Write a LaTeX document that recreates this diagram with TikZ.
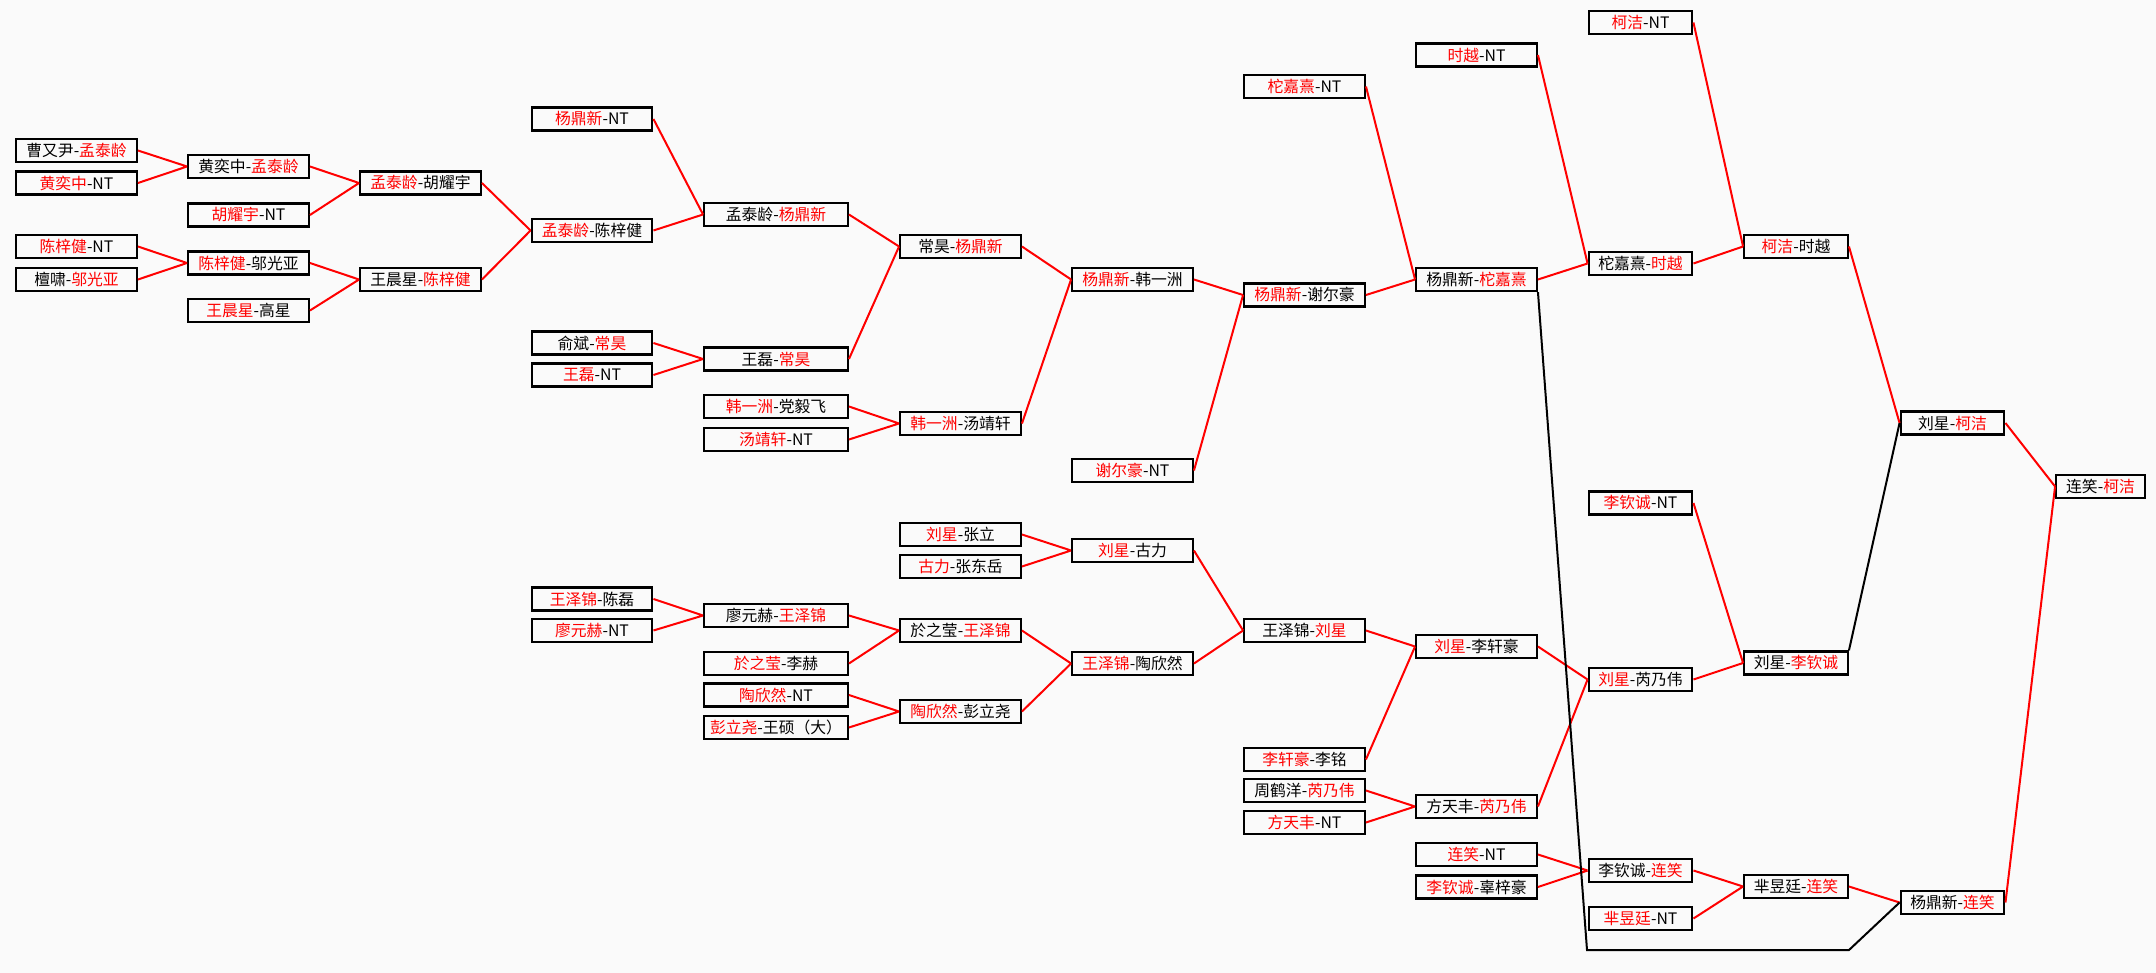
\documentclass[tikz,border=0pt]{standalone}
\usepackage{fontspec}
\setmainfont{Noto Sans CJK SC}
\definecolor{sfondo}{RGB}{250,250,250}
\newcommand{\vin}[1]{\textcolor{red}{#1}}

\begin{document}
\begin{tikzpicture}[x=0.5pt, y=-0.5pt,
        box/.style={draw, line width=1.15pt, inner sep=0pt, minimum height=11.5pt,
            minimum width=60.3pt, font=\fontsize{7.9}{9}\selectfont},
        largo/.style={box, minimum width=71.8pt},
        corto/.style={box, minimum width=51.8pt},
        finale/.style={box, minimum width=44.3pt},
        vinto/.style={red, line width=1pt},
        perso/.style={black, line width=1pt}]
    % Sfondo
    \fill[sfondo] (0,0) rectangle (2156,973);
    % Turno 1
    \node[box] (a1) at (76.5,150.5) {曹又尹-\vin{孟泰龄}};
    \node[box] (a2) at (76.5,183) {\vin{黄奕中}-NT};
    \node[box] (a3) at (76.5,246.5) {\vin{陈梓健}-NT};
    \node[box] (a4) at (76.5,279.5) {檀啸-\vin{邬光亚}};
    % Turno 2
    \node[box] (b1) at (248.5,166.5) {黄奕中-\vin{孟泰龄}};
    \node[box] (b2) at (248.5,215) {\vin{胡耀宇}-NT};
    \node[box] (b3) at (248.5,263) {\vin{陈梓健}-邬光亚};
    \node[box] (b4) at (248.5,310.5) {\vin{王晨星}-高星};
    % Turno 3
    \node[box] (c1) at (420.5,183) {\vin{孟泰龄}-胡耀宇};
    \node[box] (c2) at (420.5,279.5) {王晨星-\vin{陈梓健}};
    % Turno 4
    \node[box] (d1) at (592,119) {\vin{杨鼎新}-NT};
    \node[box] (d2) at (592,230.5) {\vin{孟泰龄}-陈梓健};
    \node[box] (d3) at (592,343) {俞斌-\vin{常昊}};
    \node[box] (d4) at (592,375) {\vin{王磊}-NT};
    \node[box] (d5) at (592,599) {\vin{王泽锦}-陈磊};
    \node[box] (d6) at (592,630.5) {\vin{廖元赫}-NT};
    % Turno 5
    \node[largo] (e1) at (776,214.5) {孟泰龄-\vin{杨鼎新}};
    \node[largo] (e2) at (776,359) {王磊-\vin{常昊}};
    \node[largo] (e3) at (776,406.5) {\vin{韩一洲}-党毅飞};
    \node[largo] (e4) at (776,439.5) {\vin{汤靖轩}-NT};
    \node[largo] (e5) at (776,615.5) {廖元赫-\vin{王泽锦}};
    \node[largo] (e6) at (776,663.5) {\vin{於之莹}-李赫};
    \node[largo] (e7) at (776,695) {\vin{陶欣然}-NT};
    \node[largo] (e8) at (776,727.5) {\vin{彭立尧}-王硕（大）};
    % Turno 6
    \node[box] (f1) at (960.5,246.5) {常昊-\vin{杨鼎新}};
    \node[box] (f2) at (960.5,423.5) {\vin{韩一洲}-汤靖轩};
    \node[box] (f3) at (960.5,534.5) {\vin{刘星}-张立};
    \node[box] (f4) at (960.5,566.5) {\vin{古力}-张东岳};
    \node[box] (f5) at (960.5,630.5) {於之莹-\vin{王泽锦}};
    \node[box] (f6) at (960.5,711.5) {\vin{陶欣然}-彭立尧};
    % Turno 7
    \node[box] (g1) at (1132.5,279.5) {\vin{杨鼎新}-韩一洲};
    \node[box] (g2) at (1132.5,470.5) {\vin{谢尔豪}-NT};
    \node[box] (g3) at (1132.5,550.5) {\vin{刘星}-古力};
    \node[box] (g4) at (1132.5,663.5) {\vin{王泽锦}-陶欣然};
    % Turno 8
    \node[box] (h1) at (1304.5,86.5) {\vin{柁嘉熹}-NT};
    \node[box] (h2) at (1304.5,295) {\vin{杨鼎新}-谢尔豪};
    \node[box] (h3) at (1304.5,630.5) {王泽锦-\vin{刘星}};
    \node[box] (h4) at (1304.5,759.5) {\vin{李轩豪}-李铭};
    \node[box] (h5) at (1304.5,790.5) {周鹤洋-\vin{芮乃伟}};
    \node[box] (h6) at (1304.5,822.5) {\vin{方天丰}-NT};
    % Turno 9
    \node[box] (i1) at (1476.5,55) {\vin{时越}-NT};
    \node[box] (i2) at (1476.5,279.5) {杨鼎新-\vin{柁嘉熹}};
    \node[box] (i3) at (1476.5,646.5) {\vin{刘星}-李轩豪};
    \node[box] (i4) at (1476.5,806.5) {方天丰-\vin{芮乃伟}};
    \node[box] (i5) at (1476.5,854.5) {\vin{连笑}-NT};
    \node[box] (i6) at (1476.5,887) {\vin{李钦诚}-辜梓豪};
    % Turno 10
    \node[corto] (j1) at (1640.5,22.5) {\vin{柯洁}-NT};
    \node[corto] (j2) at (1640.5,263.5) {柁嘉熹-\vin{时越}};
    \node[corto] (j3) at (1640.5,503) {\vin{李钦诚}-NT};
    \node[corto] (j4) at (1640.5,679.5) {\vin{刘星}-芮乃伟};
    \node[corto] (j5) at (1640.5,870.5) {李钦诚-\vin{连笑}};
    \node[corto] (j6) at (1640.5,918.5) {\vin{芈昱廷}-NT};
    % Turno 11
    \node[corto] (k1) at (1796,246.5) {\vin{柯洁}-时越};
    \node[corto] (k2) at (1796,663) {刘星-\vin{李钦诚}};
    \node[corto] (k3) at (1796,886.5) {芈昱廷-\vin{连笑}};
    % Turno 12
    \node[corto] (l1) at (1952.5,423) {刘星-\vin{柯洁}};
    \node[corto] (l2) at (1952.5,902.5) {杨鼎新-\vin{连笑}};
    % Finale
    \node[finale] (m1) at (2100.5,486.5) {连笑-\vin{柯洁}};
    % Collegamenti
    \draw[vinto] (a1.east) -- (b1.west) (a2.east) -- (b1.west);
    \draw[vinto] (a3.east) -- (b3.west) (a4.east) -- (b3.west);
    \draw[vinto] (b1.east) -- (c1.west) (b2.east) -- (c1.west);
    \draw[vinto] (b3.east) -- (c2.west) (b4.east) -- (c2.west);
    \draw[vinto] (c1.east) -- (d2.west) (c2.east) -- (d2.west);
    \draw[vinto] (d1.east) -- (e1.west) (d2.east) -- (e1.west);
    \draw[vinto] (d3.east) -- (e2.west) (d4.east) -- (e2.west);
    \draw[vinto] (d5.east) -- (e5.west) (d6.east) -- (e5.west);
    \draw[vinto] (e1.east) -- (f1.west) (e2.east) -- (f1.west);
    \draw[vinto] (e3.east) -- (f2.west) (e4.east) -- (f2.west);
    \draw[vinto] (e5.east) -- (f5.west) (e6.east) -- (f5.west);
    \draw[vinto] (e7.east) -- (f6.west) (e8.east) -- (f6.west);
    \draw[vinto] (f1.east) -- (g1.west) (f2.east) -- (g1.west);
    \draw[vinto] (f3.east) -- (g3.west) (f4.east) -- (g3.west);
    \draw[vinto] (f5.east) -- (g4.west) (f6.east) -- (g4.west);
    \draw[vinto] (g1.east) -- (h2.west) (g2.east) -- (h2.west);
    \draw[vinto] (g3.east) -- (h3.west) (g4.east) -- (h3.west);
    \draw[vinto] (h1.east) -- (i2.west) (h2.east) -- (i2.west);
    \draw[vinto] (h3.east) -- (i3.west) (h4.east) -- (i3.west);
    \draw[vinto] (h5.east) -- (i4.west) (h6.east) -- (i4.west);
    \draw[vinto] (i1.east) -- (j2.west) (i2.east) -- (j2.west);
    \draw[vinto] (i3.east) -- (j4.west) (i4.east) -- (j4.west);
    \draw[vinto] (i5.east) -- (j5.west) (i6.east) -- (j5.west);
    \draw[vinto] (j1.east) -- (k1.west) (j2.east) -- (k1.west);
    \draw[vinto] (j3.east) -- (k2.west) (j4.east) -- (k2.west);
    \draw[vinto] (j5.east) -- (k3.west) (j6.east) -- (k3.west);
    \draw[vinto] (k1.east) -- (l1.west) (k3.east) -- (l2.west);
    \draw[vinto] (l1.east) -- (m1.west) (l2.east) -- (m1.west);
    % Ripescaggio
    \coordinate (ang1) at (1587,950);
    \coordinate (ang2) at (1849,950);
    \draw[perso] (k2.north east) -- (l1.west);
    \draw[perso] (i2.south east) -- (ang1) -- (ang2) -- (l2.west);
\end{tikzpicture}
\end{document}
